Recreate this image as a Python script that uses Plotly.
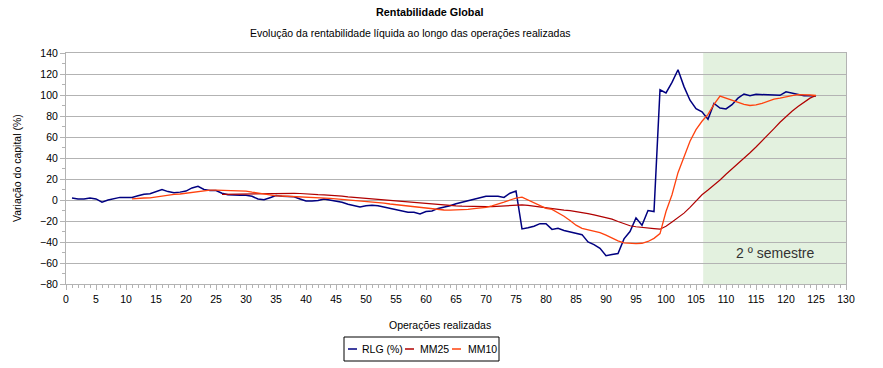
import plotly.graph_objects as go

# ---------------- data ----------------
ops = list(range(1, 126))
rlg = [2, 1, 1, 2, 1, -2, 0, 1.5, 2.5, 2.5,
       2.5, 4, 5.5, 6, 8, 10, 8, 7, 7.5, 8.5,
       11.5, 13, 10, 9, 9, 6.5, 5, 4.5, 4.5, 4.5,
       3.5, 1, 0.3, 2.2, 4.2, 3.5, 3.5, 3, 1, -1,
       -1, -0.5, 1, 0, -1, -2.2, -4, -5.4, -6.7, -5.4,
       -5, -5.4, -6.7, -8, -9.2, -11, -11.7, -11.7, -13.3, -11,
       -10.5, -8, -7, -5.4, -3.5, -2.2, -0.6, 0.3, 1.6, 3.5,
       3.5, 3.5, 2.5, 6.5, 8.6, -27.5, -26.5, -25, -22.5, -22.5,
       -28, -27, -29, -30.5, -31.5, -33, -40, -42.5, -46, -53,
       -52, -51, -37, -30, -17, -24, -10, -11, 105, 102,
       112, 124, 108, 95, 87, 84, 77, 92, 87.6, 86.7,
       90.8, 97, 101, 99.4, 100.6, 100.3, 100.6, 100, 99.7, 103,
       102, 100.3, 99.4, 99.4, 99]

mm10_ops = list(range(11, 126))
mm10 = [1, 1.8, 1.9, 2, 2.9, 4, 4.6, 5.4, 5.7, 6.5,
        7, 8, 9.2, 9.4, 9.5, 9.3, 8.8, 8.6, 8.6, 8.5,
        7.5, 6.5, 5.5, 4.8, 4, 3.8, 3.6, 3.3, 2.9, 2.5,
        2.2, 2, 1.8, 1.6, 1, 0.5, 0.2, 0, -0.8, -1.5,
        -2, -2.2, -3, -3.8, -4.5, -5, -5.5, -6.2, -7, -7.8,
        -8.5, -9, -9.5, -9.6, -9.6, -9.4, -9, -8.3, -7.6, -7,
        -5.5, -4, -2, 0, 1.8, 2.8, 0, -3, -5.5, -8,
        -9, -12, -15.5, -19.5, -24, -27, -28.3, -29.5, -31, -33.5,
        -36.5, -39, -40.8, -41.5, -41.6, -41.2, -39.5, -36.5, -32, -11,
        5, 26, 42, 56, 67, 75, 81.6, 91, 99, 97,
        95, 93, 91, 90, 90.5, 92, 94, 96, 97, 98.5,
        99.5, 100.3, 100.3, 100, 99.5]

mm25_ops = list(range(26, 126))
mm25 = [5.4, 5.5, 5.6, 5.8, 6, 6.2, 6.3, 6.3, 6.3, 6.3,
        6.3, 6.3, 6.3, 6.2, 5.6, 5.3, 5.1, 4.9, 4.6, 4.1,
        3.6, 2.9, 2.4, 1.9, 1.4, 1.1, 0.8, 0.4, 0, -0.5,
        -1, -1.6, -2.2, -2.8, -3.3, -3.8, -4.3, -4.7, -5.1, -5.5,
        -5.8, -6.1, -6.3, -6.4, -6.4, -6.3, -6.1, -5.8, -5.3, -4.8,
        -4.7, -5.2, -6, -6.8, -7.8, -8.5, -9, -9.6, -10.2, -11,
        -12, -13, -14.2, -15.4, -16.6, -18.2, -20.5, -22.5, -24.5, -25.5,
        -26.3, -26.8, -27.3, -27.8, -25, -21, -17, -12.5, -7, -1,
        5, 9.5, 14, 19, 24.5, 29.5, 34.5, 39.5, 45, 50.5,
        56, 62, 68, 74, 79.5, 84.5, 89, 93, 97, 99.5]

series_names = ["RLG (%)", "MM25", "MM10"]
series_colors = ["#000080", "#b00000", "#ff420e"]
x_ticks = list(range(0, 131, 5))
y_ticks = list(range(-80, 141, 20))
semester_start = 106.2
semester_label = "2 º semestre"

# ---------------- figure ----------------
FONT = "Liberation Sans, Arial, sans-serif"
W, H = 883, 368
L, R, T, B = 66, 37, 53, 84
PW, PH = W - L - R, H - T - B


def px(xpix):
    return (xpix - L) / PW


def py(ypix):
    return (H - B - ypix) / PH


fig = go.Figure()
fig.add_trace(go.Scatter(x=ops, y=rlg, mode="lines", name=series_names[0],
                         line=dict(color=series_colors[0], width=1.5), showlegend=False))
fig.add_trace(go.Scatter(x=mm25_ops, y=mm25, mode="lines", name=series_names[1],
                         line=dict(color=series_colors[1], width=1.2), showlegend=False))
fig.add_trace(go.Scatter(x=mm10_ops, y=mm10, mode="lines", name=series_names[2],
                         line=dict(color=series_colors[2], width=1.3), showlegend=False))

shapes = [
    dict(type="rect", xref="x", yref="y", x0=semester_start, x1=130, y0=-80, y1=140,
         fillcolor="#e3f1df", line=dict(width=0), layer="below"),
    # legend box
    dict(type="rect", xref="paper", yref="paper", x0=px(344), x1=px(499), y0=py(337), y1=py(361),
         line=dict(color="black", width=1), fillcolor="white"),
]
TXT = 10.5
annotations = [
    dict(text="<b>Rentabilidade Global</b>", x=px(429), y=py(12), xref="paper", yref="paper",
         showarrow=False, font=dict(size=10.8, color="black", family=FONT), xanchor="center", yanchor="middle"),
    dict(text="Evolução da rentabilidade líquida ao longo das operações realizadas", x=px(410), y=py(33),
         xref="paper", yref="paper", showarrow=False, font=dict(size=TXT, color="black", family=FONT),
         xanchor="center", yanchor="middle"),
    dict(text="Operações realizadas", x=px(440), y=py(325), xref="paper", yref="paper", showarrow=False,
         font=dict(size=TXT, color="black", family=FONT), xanchor="center", yanchor="middle"),
    dict(text="Variação do capital (%)", x=px(17), y=py(168), xref="paper", yref="paper", showarrow=False,
         textangle=-90, font=dict(size=TXT, color="black", family=FONT), xanchor="center", yanchor="middle"),
    dict(text=semester_label, x=118.2, y=-50.5, xref="x", yref="y", showarrow=False,
         font=dict(size=14, color="#333333", family=FONT), xanchor="center", yanchor="middle"),
]

# manual legend entries
leg_items = [(348, 360), (405, 418), (452, 466)]
for (lx, tx), name, col in zip(leg_items, series_names, series_colors):
    shapes.append(dict(type="line", xref="paper", yref="paper", x0=px(lx), x1=px(lx + 9),
                       y0=py(349), y1=py(349), line=dict(color=col, width=1.5)))
    annotations.append(dict(text=name, x=px(tx), y=py(349), xref="paper", yref="paper", showarrow=False,
                            font=dict(size=TXT, color="black", family=FONT), xanchor="left", yanchor="middle"))

axis_common = dict(showline=True, linecolor="#b3b3b3", linewidth=1, mirror=True,
                   gridcolor="#b3b3b3", gridwidth=1, zeroline=False,
                   tickfont=dict(size=TXT, color="black", family=FONT),
                   ticks="outside", tickcolor="#b3b3b3", ticklen=5)

fig.update_layout(
    width=W, height=H,
    margin=dict(l=L, r=R, t=T, b=B, pad=0),
    paper_bgcolor="white", plot_bgcolor="white",
    font=dict(family=FONT, size=TXT, color="black"),
    shapes=shapes, annotations=annotations,
    showlegend=False,
    xaxis=dict(range=[0, 130], tickvals=x_ticks, showgrid=False,
               minor=dict(dtick=1, ticks="outside", ticklen=3, tickcolor="#b3b3b3", showgrid=False),
               **axis_common),
    yaxis=dict(range=[-80, 140], tickvals=y_ticks, showgrid=True,
               minor=dict(dtick=10, ticks="outside", ticklen=3, tickcolor="#b3b3b3", showgrid=False),
               **axis_common),
)

fig.write_html("out.html", config={"displayModeBar": False},
               post_script="document.body.style.margin='0';document.body.style.overflow='hidden';")
